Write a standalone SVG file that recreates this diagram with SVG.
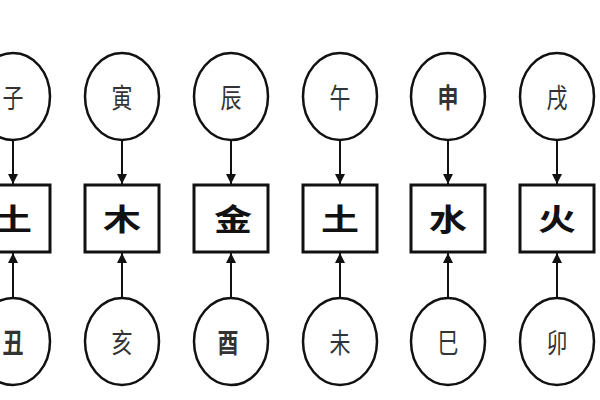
<svg xmlns="http://www.w3.org/2000/svg" width="600" height="400" viewBox="0 0 600 400">
<defs>
<style>
.e{fill:#fff;stroke:#111;stroke-width:2.5}
.b{fill:#fff;stroke:#111;stroke-width:3}
.c{stroke:#111;stroke-width:2;fill:none}
.t{font-family:"Noto Sans CJK SC","Noto Sans CJK JP",sans-serif;font-size:27px;fill:#333;text-anchor:middle;dominant-baseline:central}
.k{font-family:"Noto Sans CJK SC","Noto Sans CJK JP",sans-serif;font-size:30px;font-weight:bold;fill:#111;text-anchor:middle;dominant-baseline:central}
</style>
<marker id="ah" viewBox="0 0 10 10" refX="10" refY="5" markerWidth="5" markerHeight="6" orient="auto" markerUnits="strokeWidth"><path d="M0,0 L10,5 L0,10 Z" fill="#111"/></marker>
</defs>
<rect width="600" height="400" fill="#fff"/>
<g id="connectors">
<line class="c" x1="13" y1="140" x2="13" y2="184" marker-end="url(#ah)"/>
<line class="c" x1="122" y1="140" x2="122" y2="184" marker-end="url(#ah)"/>
<line class="c" x1="231" y1="140" x2="231" y2="184" marker-end="url(#ah)"/>
<line class="c" x1="340" y1="140" x2="340" y2="184" marker-end="url(#ah)"/>
<line class="c" x1="448" y1="140" x2="448" y2="184" marker-end="url(#ah)"/>
<line class="c" x1="557" y1="140" x2="557" y2="184" marker-end="url(#ah)"/>
<line class="c" x1="13" y1="298" x2="13" y2="253" marker-end="url(#ah)"/>
<line class="c" x1="122" y1="298" x2="122" y2="253" marker-end="url(#ah)"/>
<line class="c" x1="231" y1="298" x2="231" y2="253" marker-end="url(#ah)"/>
<line class="c" x1="340" y1="298" x2="340" y2="253" marker-end="url(#ah)"/>
<line class="c" x1="448" y1="298" x2="448" y2="253" marker-end="url(#ah)"/>
<line class="c" x1="557" y1="298" x2="557" y2="253" marker-end="url(#ah)"/>
</g>
<g id="n-zi"><ellipse class="e" cx="13" cy="96.5" rx="37" ry="43.5"/><text class="t" x="13" y="96" textLength="21" lengthAdjust="spacingAndGlyphs">子</text></g>
<g id="n-yin"><ellipse class="e" cx="122" cy="96.5" rx="37" ry="43.5"/><text class="t" x="122" y="96" textLength="21" lengthAdjust="spacingAndGlyphs">寅</text></g>
<g id="n-chen"><ellipse class="e" cx="231" cy="96.5" rx="37" ry="43.5"/><text class="t" x="231" y="96" textLength="21" lengthAdjust="spacingAndGlyphs">辰</text></g>
<g id="n-wu"><ellipse class="e" cx="340" cy="96.5" rx="37" ry="43.5"/><text class="t" x="340" y="96" textLength="21" lengthAdjust="spacingAndGlyphs">午</text></g>
<g id="n-shen"><ellipse class="e" cx="448" cy="96.5" rx="37" ry="43.5"/><text class="t" x="448" y="96" textLength="21" lengthAdjust="spacingAndGlyphs" font-weight="bold" fill="#111">申</text></g>
<g id="n-xu"><ellipse class="e" cx="557" cy="96.5" rx="37" ry="43.5"/><text class="t" x="557" y="96" textLength="21" lengthAdjust="spacingAndGlyphs">戌</text></g>
<g id="b-tu1"><rect class="b" x="-24" y="185" width="74" height="67"/><text class="k" x="13" y="217" textLength="38" lengthAdjust="spacingAndGlyphs">土</text></g>
<g id="b-mu"><rect class="b" x="85" y="185" width="74" height="67"/><text class="k" x="122" y="217" textLength="38" lengthAdjust="spacingAndGlyphs">木</text></g>
<g id="b-jin"><rect class="b" x="194" y="185" width="74" height="67"/><text class="k" x="233" y="217" textLength="38" lengthAdjust="spacingAndGlyphs">金</text></g>
<g id="b-tu2"><rect class="b" x="303" y="185" width="74" height="67"/><text class="k" x="340" y="217" textLength="38" lengthAdjust="spacingAndGlyphs">土</text></g>
<g id="b-shui"><rect class="b" x="411" y="185" width="74" height="67"/><text class="k" x="448" y="217" textLength="38" lengthAdjust="spacingAndGlyphs">水</text></g>
<g id="b-huo"><rect class="b" x="520" y="185" width="74" height="67"/><text class="k" x="557" y="217" textLength="38" lengthAdjust="spacingAndGlyphs">火</text></g>
<g id="n-chou"><ellipse class="e" cx="13" cy="341.5" rx="37" ry="43.5"/><text class="t" x="13" y="341" textLength="21" lengthAdjust="spacingAndGlyphs" font-weight="bold" fill="#111">丑</text></g>
<g id="n-hai"><ellipse class="e" cx="122" cy="341.5" rx="37" ry="43.5"/><text class="t" x="122" y="341" textLength="21" lengthAdjust="spacingAndGlyphs">亥</text></g>
<g id="n-you"><ellipse class="e" cx="231" cy="341.5" rx="37" ry="43.5"/><text class="t" x="228" y="341" textLength="21" lengthAdjust="spacingAndGlyphs" font-weight="bold" fill="#111">酉</text></g>
<g id="n-wei"><ellipse class="e" cx="340" cy="341.5" rx="37" ry="43.5"/><text class="t" x="340" y="341" textLength="21" lengthAdjust="spacingAndGlyphs">未</text></g>
<g id="n-si"><ellipse class="e" cx="448" cy="341.5" rx="37" ry="43.5"/><text class="t" x="448" y="341" textLength="21" lengthAdjust="spacingAndGlyphs">巳</text></g>
<g id="n-mao"><ellipse class="e" cx="557" cy="341.5" rx="37" ry="43.5"/><text class="t" x="557" y="341" textLength="21" lengthAdjust="spacingAndGlyphs">卯</text></g>
</svg>
